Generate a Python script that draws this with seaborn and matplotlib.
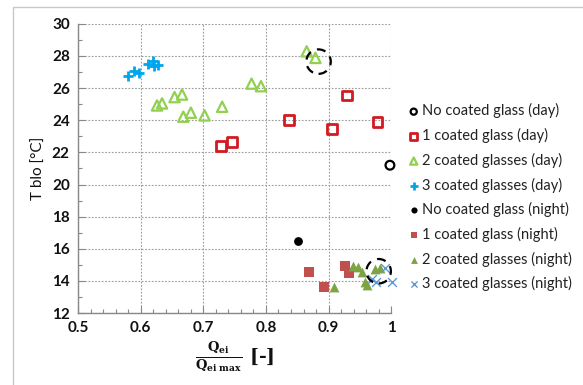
import matplotlib
matplotlib.use("Agg")
import matplotlib.pyplot as plt
import seaborn as sns
import pandas as pd
from matplotlib.ticker import MultipleLocator
from matplotlib.patches import Rectangle

# ---- data ----
day0_x = [0.998]
day0_y = [21.2]
day1_x = [0.728, 0.746, 0.837, 0.905, 0.929, 0.978]
day1_y = [22.38, 22.67, 23.99, 23.48, 25.54, 23.91]
day2_x = [0.865, 0.879, 0.777, 0.792, 0.626, 0.634, 0.654, 0.666, 0.668, 0.680, 0.702, 0.730]
day2_y = [28.29, 27.88, 26.28, 26.12, 24.92, 25.05, 25.44, 25.60, 24.22, 24.47, 24.30, 24.84]
day3_x = [0.580, 0.589, 0.598, 0.611, 0.619, 0.628, 0.621]
day3_y = [26.78, 27.05, 26.95, 27.52, 27.67, 27.46, 27.35]
night0_x = [0.851]
night0_y = [16.5]
night1_x = [0.868, 0.893, 0.927, 0.933]
night1_y = [14.58, 13.60, 14.91, 14.50]
night2_x = [0.908, 0.939, 0.947, 0.953, 0.958, 0.961, 0.974, 0.982]
night2_y = [13.62, 14.91, 14.87, 14.56, 13.94, 13.73, 14.72, 14.81]
night3_x = [0.969, 0.975, 0.990, 1.001]
night3_y = [14.10, 13.95, 14.80, 13.95]
circle_x = [0.884, 0.980]
circle_y = [27.65, 14.60]

labels = ["No coated glass (day)", "1 coated glass (day)", "2 coated glasses (day)",
          "3 coated glasses (day)", "No coated glass (night)", "1 coated glass (night)",
          "2 coated glasses (night)", "3 coated glasses (night)"]

sns.set_theme(style="white")
plt.rcParams['font.family'] = ['Lato', 'DejaVu Sans']
plt.rcParams['mathtext.fontset'] = 'dejavuserif'

fig = plt.figure(figsize=(5.83, 3.85), dpi=100)
ax = fig.add_axes([0.134, 0.187, 0.537, 0.751])

fig.patches.append(Rectangle((13/583, -0.1), 1.2, 1 - 7/385 + 0.1, transform=fig.transFigure,
                             fill=False, edgecolor='#c8c8c8', linewidth=1.0, zorder=0))

series = [
    (day0_x, day0_y, dict(marker='o', s=40, facecolor='none', edgecolor='black', linewidth=1.6)),
    (day1_x, day1_y, dict(marker='s', s=50, facecolor='none', edgecolor='#d11a22', linewidth=2.0)),
    (day2_x, day2_y, dict(marker='^', s=55, facecolor='none', edgecolor='#92D050', linewidth=1.6)),
    (day3_x, day3_y, dict(marker='+', s=60, color='#00A6EC', linewidth=2.0)),
    (night0_x, night0_y, dict(marker='o', s=40, color='black', edgecolor='black', linewidth=0)),
    (night1_x, night1_y, dict(marker='s', s=45, color='#C0504D', edgecolor='#C0504D', linewidth=0)),
    (night2_x, night2_y, dict(marker='^', s=50, color='#7EA343', edgecolor='#7EA343', linewidth=0)),
    (night3_x, night3_y, dict(marker='x', s=40, color='#5B9BD5', linewidth=1.0)),
]
for (xs, ys, kw), lab in zip(series, labels):
    sns.scatterplot(x=xs, y=ys, ax=ax, label=lab, zorder=3, clip_on=False, **kw)

sns.scatterplot(x=circle_x, y=circle_y, ax=ax, marker='o', s=310, facecolor='none',
                edgecolor='black', linewidth=1.6, linestyle=(0, (4, 3)), zorder=4,
                legend=False, clip_on=False)

ax.set_xlim(0.5, 1.0)
ax.set_ylim(12, 30)
ax.xaxis.set_major_locator(MultipleLocator(0.1))
ax.xaxis.set_minor_locator(MultipleLocator(0.02))
ax.yaxis.set_major_locator(MultipleLocator(2))
ax.yaxis.set_minor_locator(MultipleLocator(1))
ax.set_xticks([0.5, 0.6, 0.7, 0.8, 0.9, 1.0])
ax.set_xticklabels(["0.5", "0.6", "0.7", "0.8", "0.9", "1"])
ax.grid(True, which='major', linestyle=(0, (1.5, 1.5)), color='#9a9a9a', linewidth=0.8)
ax.tick_params(which='both', direction='in', color='#888888')
ax.tick_params(which='major', length=5, width=0.8, labelsize=11, pad=6)
ax.tick_params(which='minor', length=3, width=0.8)
ax.tick_params(axis='x', which='both', bottom=True)
ax.tick_params(axis='y', which='both', left=True)
for lab in ax.get_xticklabels() + ax.get_yticklabels():
    lab.set_fontweight('bold')
    lab.set_color('#111111')
for s in ['top', 'right']:
    ax.spines[s].set_visible(False)
for s in ['left', 'bottom']:
    ax.spines[s].set_color('#888888')
    ax.spines[s].set_linewidth(1.0)

ax.set_ylabel("T blo [°C]", fontsize=11, color='#111111', labelpad=4)
ax.set_xlabel(r'$\mathbf{\frac{Q_{ei}}{Q_{ei\ max}}}$' + ' [-]', fontsize=13.5,
              fontweight='bold', family='DejaVu Serif', color='#111111', labelpad=3)

leg = ax.legend(loc='upper left', bbox_to_anchor=(1.03, 0.745), frameon=False,
                fontsize=10.5, handletextpad=0.1, labelspacing=0.66, borderaxespad=0,
                handlelength=1.0, markerscale=0.7)
for t in leg.get_texts():
    t.set_color('#222222')

fig.savefig("out.png", dpi=100)
